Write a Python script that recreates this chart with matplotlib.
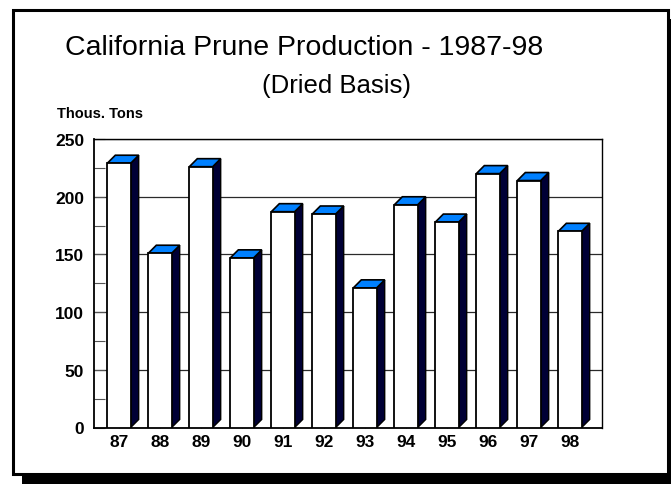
import matplotlib
matplotlib.use("Agg")
import matplotlib.pyplot as plt
from matplotlib.patches import Polygon, Rectangle
from matplotlib.ticker import MultipleLocator

years = ["87", "88", "89", "90", "91", "92", "93", "94", "95", "96", "97", "98"]
production = [229, 151, 226, 147, 187, 185, 121, 193, 178, 220, 214, 170]
y_ticks = [0, 50, 100, 150, 200, 250]

FONT = ["Liberation Sans", "DejaVu Sans"]
W, H = 671, 485

fig = plt.figure(figsize=(W / 100, H / 100), dpi=100)
fig.patch.set_facecolor("white")

# frame with drop shadow (pixel coords -> figure fraction)
def px_rect(x0, y0, x1, y1, **kw):
    return Rectangle((x0 / W, 1 - y1 / H), (x1 - x0) / W, (y1 - y0) / H,
                     transform=fig.transFigure, **kw)

fig.patches.append(px_rect(22, 20, 680, 492, facecolor="black", edgecolor="none", zorder=0))
fig.patches.append(px_rect(13, 11, 668, 475, facecolor="white", edgecolor="black",
                           linewidth=2.2, zorder=1))

ax = fig.add_axes([94 / W, (H - 428.5) / H, 508 / W, 288.5 / H])
ax.set_zorder(5)
ax.set_facecolor("none")
ax.set_xlim(-0.61, 11.78)
ax.set_ylim(0, 250)

x = list(range(len(years)))
bw = 0.57          # front face width (data units)
dx = 8 / 41        # depth offset in x (data units)
dy = 8 / 1.152     # depth offset in y (data units)

for xi, v in zip(x, production):
    left, right = xi - bw / 2, xi + bw / 2
    ax.add_patch(Polygon([(right, v), (right + dx, v + dy), (right + dx, dy), (right, 0)],
                         closed=True, facecolor="#000035", edgecolor="black",
                         linewidth=1.0, zorder=3))
    ax.add_patch(Polygon([(left, v), (left + dx, v + dy), (right + dx, v + dy), (right, v)],
                         closed=True, facecolor="#0080FF", edgecolor="black",
                         linewidth=1.2, zorder=3))
ax.bar(x, production, width=bw, color="white", edgecolor="black", linewidth=1.3, zorder=4)

ax.set_yticks(y_ticks)
ax.yaxis.set_minor_locator(MultipleLocator(25))
ax.grid(axis="y", which="major", color="#2a2a2a", linewidth=0.9, zorder=1)
ax.set_axisbelow(True)
ax.tick_params(axis="y", which="both", direction="in", length=8, width=0.8,
               color="#555555", pad=7)
ax.set_xticks(x)
ax.set_xticklabels(years)
ax.tick_params(axis="x", direction="in", length=7, width=0.8, color="#888888",
               pad=5)
for lab in ax.get_xticklabels() + ax.get_yticklabels():
    lab.set_fontfamily(FONT)
    lab.set_fontsize(12.5)
    lab.set_fontweight("bold")

for s in ["left", "bottom"]:
    ax.spines[s].set_color("black")
    ax.spines[s].set_linewidth(1.3)
for s in ["top", "right"]:
    ax.spines[s].set_color("black")
    ax.spines[s].set_linewidth(1.0)

fig.text(304 / W, 1 - 55 / H, "California Prune Production - 1987-98",
         ha="center", va="baseline", fontsize=20.5, family=FONT)
fig.text(336 / W, 1 - 93 / H, "(Dried Basis)",
         ha="center", va="baseline", fontsize=18.5, family=FONT)
fig.text(57 / W, 1 - 118 / H, "Thous. Tons",
         ha="left", va="baseline", fontsize=10.5, fontweight="bold", family=FONT)

fig.savefig("out.png", dpi=100)
